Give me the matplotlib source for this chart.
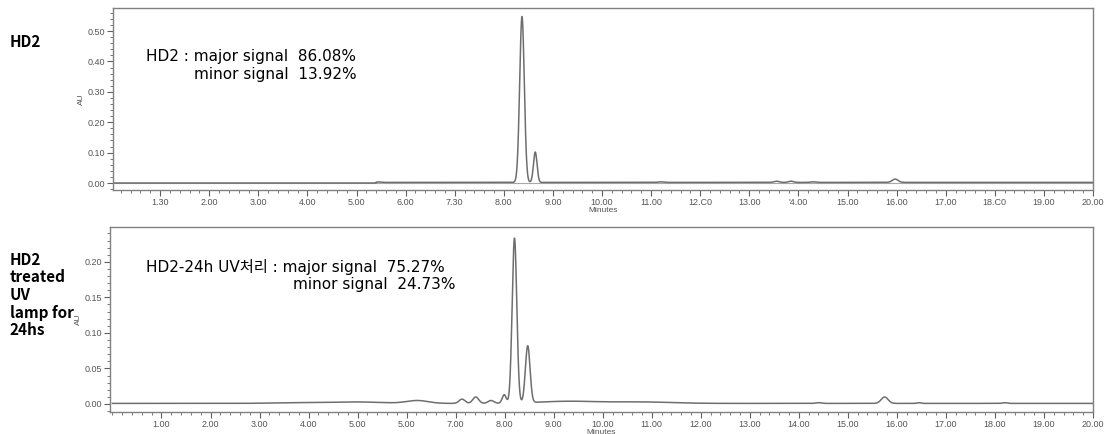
import numpy as np
import matplotlib.pyplot as plt
from matplotlib.ticker import MultipleLocator, FixedLocator, FixedFormatter

plt.rcParams['font.family'] = ['Liberation Sans', 'DejaVu Sans']

# peak tables (retention time in min, height in AU, sigma in min)
hd2_rt = [5.45, 8.37, 8.64, 11.2, 13.55, 13.85, 14.3, 15.97]
hd2_height = [0.0015, 0.546, 0.100, 0.002, 0.004, 0.004, 0.002, 0.011]
hd2_sigma = [0.05, 0.047, 0.036, 0.05, 0.05, 0.05, 0.05, 0.06]
hd2_base = 0.002

uv_rt = [3.8, 5.0, 6.22, 7.13, 7.41, 7.72, 7.99, 8.20, 8.47, 9.3, 10.8, 14.4, 15.75, 16.45, 18.2]
uv_height = [0.001, 0.002, 0.004, 0.006, 0.009, 0.004, 0.012, 0.232, 0.080, 0.003, 0.002, 0.001, 0.009, 0.001, 0.001]
uv_sigma = [0.5, 0.5, 0.22, 0.06, 0.06, 0.06, 0.04, 0.047, 0.047, 0.6, 0.6, 0.05, 0.07, 0.04, 0.04]
uv_base = 0.0008

top_xlabels = ['1.30', '2.00', '3.00', '4.00', '5.00', '6.00', '7.30', '8.00', '9.00', '10.00',
               '11.00', '12.C0', '13.00', "'4.00", '15.00', '16.00', '17.00', '18.C0', '19.00', '20.00']
bot_xlabels = ['1.00', '2.00', '3.00', '4.00', '5.00', '5.00', '7.00', '8.00', '9.00', '10.00',
               '11.00', '12.00', '13.00', '14.00', '15.00', '16.00', '17.00', '18.00', '19.00', '20.00']
top_yticks = [0.00, 0.10, 0.20, 0.30, 0.40, 0.50]
bot_yticks = [0.00, 0.05, 0.10, 0.15, 0.20]


def trace(t, rt, h, s, base):
    y = np.full_like(t, base)
    for r, a, w in zip(rt, h, s):
        y += a * np.exp(-0.5 * ((t - r) / w) ** 2)
    return y


t = np.linspace(0, 20, 8000)
W, H = 1107, 434
fig = plt.figure(figsize=(W / 100, H / 100), dpi=100)

gray = '#6e6e6e'
ax1 = fig.add_axes([113 / W, 1 - 190 / H, (1093 - 113) / W, (190 - 8) / H])
ax2 = fig.add_axes([110 / W, 1 - 412 / H, (1093 - 110) / W, (412 - 227) / H])

y1 = trace(t, hd2_rt, hd2_height, hd2_sigma, hd2_base)
y1[t < 5.4] = 0.0
ax1.plot(t, y1, color=gray, lw=1.1)
ax1.axhline(0, color=gray, lw=0.8, alpha=0.6)
ax1.set_xlim(0.04, 20)
ax1.set_ylim(-0.023, 0.576)

y2 = trace(t, uv_rt, uv_height, uv_sigma, uv_base)
ax2.plot(t, y2, color=gray, lw=1.1)
ax2.set_xlim(-0.05, 20)
ax2.set_ylim(-0.0113, 0.249)

for ax, yt, xl, ym in [(ax1, top_yticks, top_xlabels, 0.02), (ax2, bot_yticks, bot_xlabels, 0.01)]:
    for sp in ax.spines.values():
        sp.set_color('#808080')
        sp.set_linewidth(1.0)
    ax.xaxis.set_major_locator(FixedLocator(range(1, 21)))
    ax.xaxis.set_major_formatter(FixedFormatter(xl))
    ax.xaxis.set_minor_locator(MultipleLocator(0.2))
    ax.set_yticks(yt)
    ax.set_yticklabels(['%.2f' % v for v in yt])
    ax.yaxis.set_minor_locator(MultipleLocator(ym))
    ax.tick_params(which='major', length=4, width=0.8, color='#606060', labelsize=6.5,
                   labelcolor='#555555', pad=1.5)
    ax.tick_params(which='minor', length=2, width=0.6, color='#606060')
    ax.set_ylabel('AU', fontsize=6, color='#555555', labelpad=2)
    ax.set_xlabel('Minutes', fontsize=6, color='#555555', labelpad=0)

kr = ['Noto Sans CJK KR', 'DejaVu Sans']
txt = ['DejaVu Sans', 'Noto Sans CJK KR']
fig.text(10 / W, 1 - 42 / H, 'HD2', fontsize=11, family=kr, weight='bold', va='center')
fig.text(10 / W, 1 - 295 / H, 'HD2\ntreated\nUV\nlamp for\n24hs', fontsize=11, family=kr,
         weight='bold', va='center', linespacing=1.12)

fig.text(146 / W, 1 - 56 / H, 'HD2 : major signal  86.08%', fontsize=11, family=txt,
         va='center')
fig.text(194 / W, 1 - 75 / H, 'minor signal  13.92%', fontsize=11, family=txt,
         va='center')
fig.text(146 / W, 1 - 267 / H, 'HD2-24h UV처리 : major signal  75.27%', fontsize=11, family=txt,
         va='center')
fig.text(293 / W, 1 - 284 / H, 'minor signal  24.73%', fontsize=11, family=txt,
         va='center')

fig.savefig('out.png', dpi=100)
